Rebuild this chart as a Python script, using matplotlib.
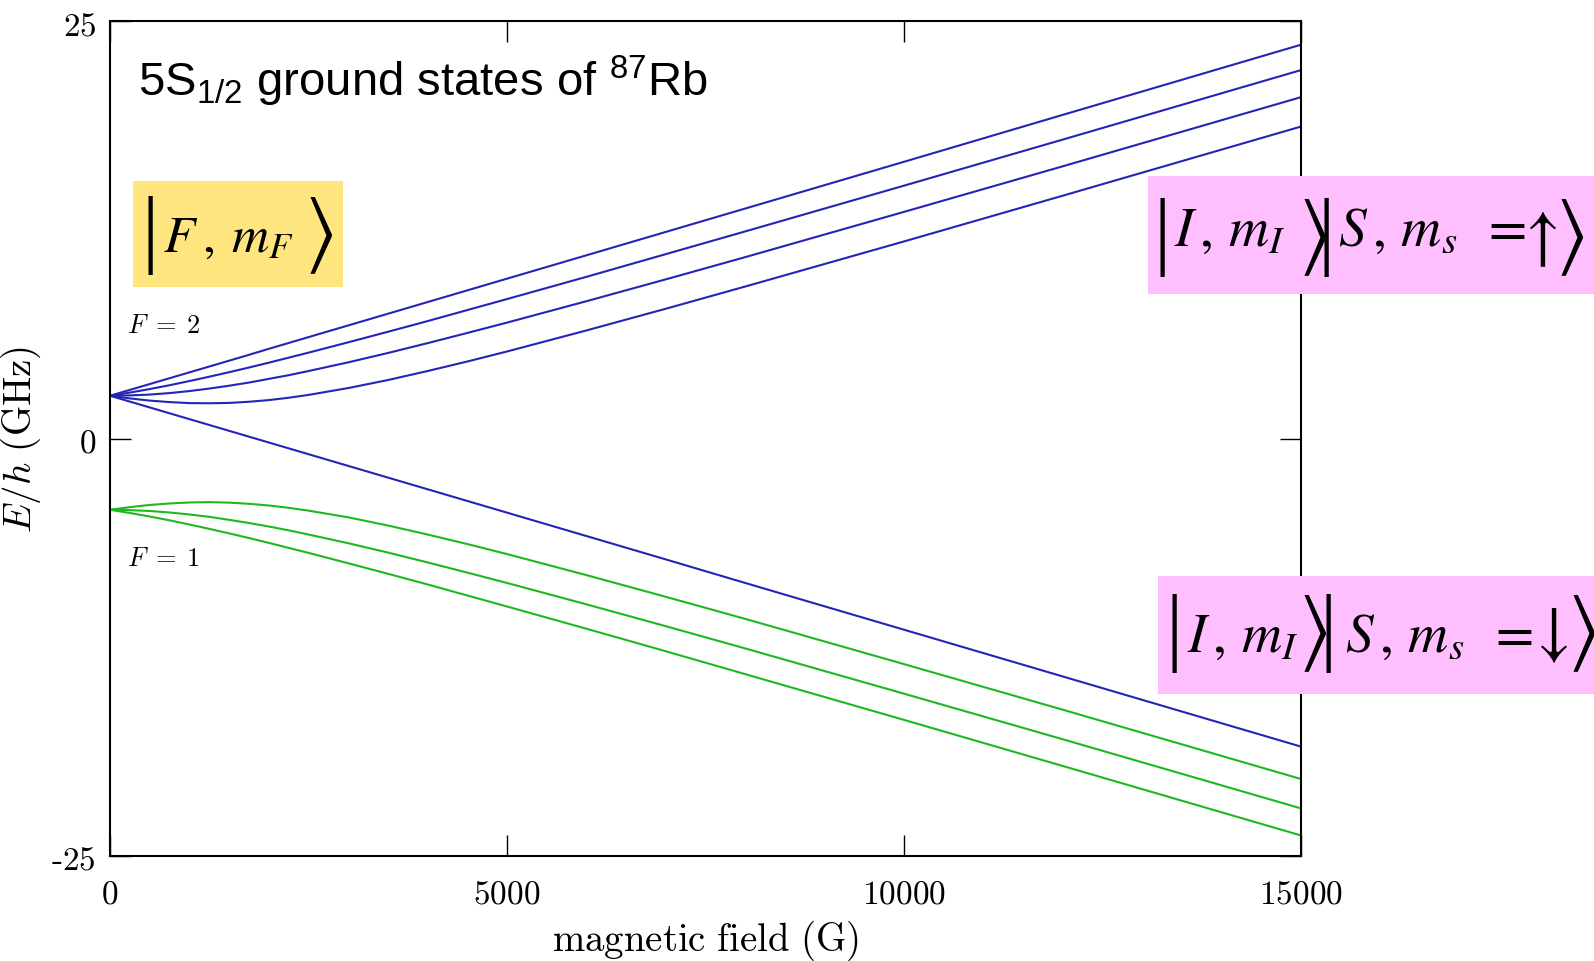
import matplotlib
matplotlib.use('Agg')
import matplotlib.pyplot as plt
from matplotlib.patches import Rectangle

field = [0, 250, 500, 750, 1000, 1250, 1500, 1750, 2000, 2250, 2500, 3000,
         3500, 4000, 4500, 5000, 6000, 7000, 8000, 10000, 12000, 15000]

# E/h (GHz), upper manifold (F = 2)
f2_m2 = [2.56, 2.91, 3.26, 3.61, 3.96, 4.31, 4.66, 5.01, 5.37, 5.72, 6.07, 6.77,
         7.47, 8.17, 8.87, 9.57, 10.97, 12.37, 13.77, 16.57, 19.38, 23.58]
f2_m1 = [2.56, 2.75, 2.96, 3.19, 3.44, 3.70, 3.97, 4.25, 4.54, 4.84, 5.14, 5.76,
         6.39, 7.03, 7.69, 8.35, 9.68, 11.04, 12.40, 15.14, 17.90, 22.06]
f2_m0 = [2.56, 2.58, 2.63, 2.72, 2.84, 2.99, 3.16, 3.35, 3.57, 3.79, 4.04, 4.56,
         5.12, 5.71, 6.32, 6.94, 8.22, 9.53, 10.86, 13.57, 16.30, 20.44]
f2_mm1 = [2.56, 2.40, 2.27, 2.18, 2.12, 2.11, 2.13, 2.20, 2.30, 2.44, 2.61, 3.02,
          3.50, 4.04, 4.61, 5.21, 6.47, 7.77, 9.10, 11.80, 14.54, 18.68]
f2_mm2 = [2.56, 2.21, 1.86, 1.51, 1.16, 0.81, 0.46, 0.11, -0.24, -0.59, -0.94, -1.64,
          -2.34, -3.04, -3.74, -4.44, -5.84, -7.24, -8.65, -11.45, -14.25, -18.45]

# lower manifold (F = 1)
f1_mm1 = [-4.27, -4.11, -3.98, -3.89, -3.83, -3.81, -3.84, -3.91, -4.01, -4.15, -4.32, -4.72,
          -5.21, -5.75, -6.32, -6.92, -8.18, -9.48, -10.80, -13.51, -16.24, -20.39]
f1_m0 = [-4.27, -4.29, -4.34, -4.43, -4.55, -4.69, -4.87, -5.06, -5.27, -5.50, -5.75, -6.27,
         -6.83, -7.42, -8.03, -8.65, -9.93, -11.24, -12.57, -15.28, -18.01, -22.15]
f1_m1 = [-4.27, -4.46, -4.67, -4.90, -5.15, -5.41, -5.68, -5.96, -6.25, -6.55, -6.85, -7.47,
         -8.10, -8.74, -9.40, -10.06, -11.39, -12.74, -14.11, -16.85, -19.61, -23.77]

xticks = [0, 5000, 10000, 15000]
yticks = [-25, 0, 25]
xticklabels = ['0', '5000', '10000', '15000']
yticklabels = ['\\text{-}25', '0', '25']

plt.rcParams['mathtext.fontset'] = 'cm'
plt.rcParams['mathtext.rm'] = 'Liberation Sans'
plt.rcParams['mathtext.it'] = 'Liberation Sans:italic'

W, H = 1594, 962
fx = lambda px: px / W
fy = lambda py: 1 - py / H

fig = plt.figure(figsize=(W / 100, H / 100), dpi=100)
ax = fig.add_axes([fx(110), fy(857), (1301 - 110) / W, (857 - 22) / H])

blue = '#2424b8'
green = '#1fb81f'
for e in (f2_m2, f2_m1, f2_m0, f2_mm1, f2_mm2):
    ax.plot(field, e, color=blue, lw=1.5)
for e in (f1_mm1, f1_m0, f1_m1):
    ax.plot(field, e, color=green, lw=1.5)

ax.set_xlim(0, 15000)
ax.set_ylim(-25, 25)
ax.set_xticks(xticks)
ax.set_xticklabels(['$\\mathrm{%s}$' % t for t in xticklabels], fontsize=24)
ax.set_yticks(yticks)
ax.set_yticklabels(['$\\mathrm{%s}$' % t for t in yticklabels], fontsize=24)
ax.tick_params(direction='in', length=15, width=1, top=True, right=True)
ax.tick_params(axis='x', pad=15)
ax.tick_params(axis='y', pad=10)
for s in ax.spines.values():
    s.set_linewidth(1.5)

ax.set_xlabel('$\\mathrm{magnetic\\ field\\ (G)}$', fontsize=28, labelpad=6)
ax.set_ylabel('$E/h\\ \\mathrm{(GHz)}$', fontsize=28, labelpad=6)

fig.text(fx(127), fy(326), '$F\\;=\\;2$', fontsize=19, va='center')
fig.text(fx(127), fy(559), '$F\\;=\\;1$', fontsize=19, va='center')

fig.text(fx(138), fy(96), '5S$_{1/2}$ ground states of $^{87}$Rb',
         family='Liberation Sans', fontsize=34, va='baseline', math_fontfamily='custom')

# coloured boxes behind the ket labels (pixel extents)
boxes = [((133, 182, 343, 288), '#ffe57f'),
         ((1148, 177, 1594, 295), '#ffbfff'),
         ((1158, 577, 1594, 695), '#ffbfff')]
for (x0, y0, x1, y1), col in boxes:
    fig.add_artist(Rectangle((fx(x0), fy(y1)), (x1 - x0) / W, (y1 - y0) / H,
                             transform=fig.transFigure, facecolor=col,
                             edgecolor='none', zorder=5))

# ket pieces: (left px, text, kind); 'b' = bar, 'd' = angle bracket, 't' = body, 'a' = arrow
kets = [
    (235, 252, [(141, '|', 'b'), (163, r'F\:,\:m_F', 't'), (304, r'\rangle', 'd')], 37),
    (237, 246, [(1154, '|', 'b'), (1174, r'I\,,\,m_I', 't'), (1298, r'\rangle', 'd'),
                (1318, '|', 'b'), (1338, r'S\,,\,m_s\;\;=', 't'), (1516, r'\uparrow', 'a'),
                (1555, r'\rangle', 'd')], 40),
    (633, 652, [(1166, '|', 'b'), (1187, r'I\,,\,m_I', 't'), (1298, r'\rangle', 'd'),
                (1319, '|', 'b'), (1345, r'S\,,\,m_s\;\;=', 't'), (1527, r'\downarrow', 'a'),
                (1567, r'\rangle', 'd')], 40),
]
for yc, yb, pieces, fs in kets:
    for px, s, kind in pieces:
        if kind == 'b':
            fig.text(fx(px), fy(yc), '|', fontsize=62, va='center',
                     family='Liberation Serif', zorder=6)
        elif kind == 'd':
            fig.text(fx(px), fy(yc), '$%s$' % s, fontsize=60, va='center',
                     math_fontfamily='stix', zorder=6)
        elif kind == 'a':
            fig.text(fx(px), fy(yc), '$%s$' % s, fontsize=48, va='center',
                     math_fontfamily='stix', zorder=6)
        else:
            fig.text(fx(px), fy(yb), '$%s$' % s, fontsize=fs, va='baseline',
                     math_fontfamily='stix', zorder=6)

fig.savefig('out.png', dpi=100)
